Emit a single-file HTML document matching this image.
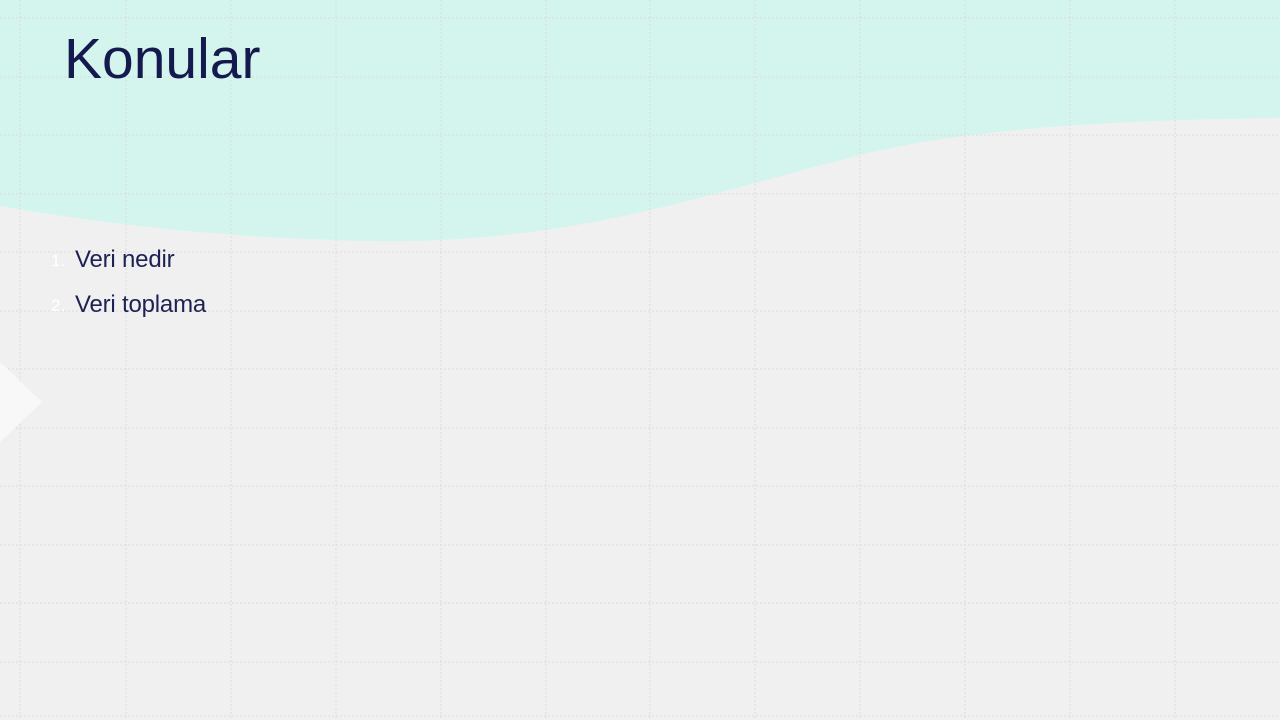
<!DOCTYPE html>
<html><head><meta charset="utf-8"><style>
body{margin:0;width:1280px;height:720px;overflow:hidden;background:#f0f0f0;font-family:"Liberation Sans",sans-serif;position:relative}
svg{position:absolute;left:0;top:0}
.t{position:absolute;left:64px;top:26px;font-size:57px;color:#141a4d;letter-spacing:0px}
.li{position:absolute;font-size:24px;color:#1d2154;letter-spacing:-0.2px}
.n{position:absolute;font-size:17px;color:#ffffff}
</style></head><body>
<svg width="1280" height="720">
<path d="M0,0 H1280 V118 C1100,120 960,130 860,155 C700,195 560,250 335,240 C200,236 80,220 0,206 Z" fill="#d4f5ee"/>
<g stroke="#dcdcdc" stroke-width="1" stroke-dasharray="2,2">
<line x1="20" y1="0" x2="20" y2="720"/><line x1="126" y1="0" x2="126" y2="720"/><line x1="231" y1="0" x2="231" y2="720"/><line x1="336" y1="0" x2="336" y2="720"/><line x1="441" y1="0" x2="441" y2="720"/><line x1="546" y1="0" x2="546" y2="720"/><line x1="650" y1="0" x2="650" y2="720"/><line x1="755" y1="0" x2="755" y2="720"/><line x1="860" y1="0" x2="860" y2="720"/><line x1="965" y1="0" x2="965" y2="720"/><line x1="1070" y1="0" x2="1070" y2="720"/><line x1="1175" y1="0" x2="1175" y2="720"/>
<line x1="0" y1="18" x2="1280" y2="18"/><line x1="0" y1="77" x2="1280" y2="77"/><line x1="0" y1="135" x2="1280" y2="135"/><line x1="0" y1="194" x2="1280" y2="194"/><line x1="0" y1="252" x2="1280" y2="252"/><line x1="0" y1="311" x2="1280" y2="311"/><line x1="0" y1="369" x2="1280" y2="369"/><line x1="0" y1="428" x2="1280" y2="428"/><line x1="0" y1="486" x2="1280" y2="486"/><line x1="0" y1="545" x2="1280" y2="545"/><line x1="0" y1="603" x2="1280" y2="603"/><line x1="0" y1="662" x2="1280" y2="662"/><line x1="0" y1="716" x2="1280" y2="716"/>
</g>
<polygon points="0,362 42,402 0,442" fill="#f8f8f8"/>
</svg>
<div class="t">Konular</div>
<div class="n" style="left:51px;top:251px">1.</div>
<div class="li" style="left:75px;top:246px">Veri nedir</div>
<div class="n" style="left:51px;top:296px">2.</div>
<div class="li" style="left:75px;top:291px">Veri toplama</div>
</body></html>
